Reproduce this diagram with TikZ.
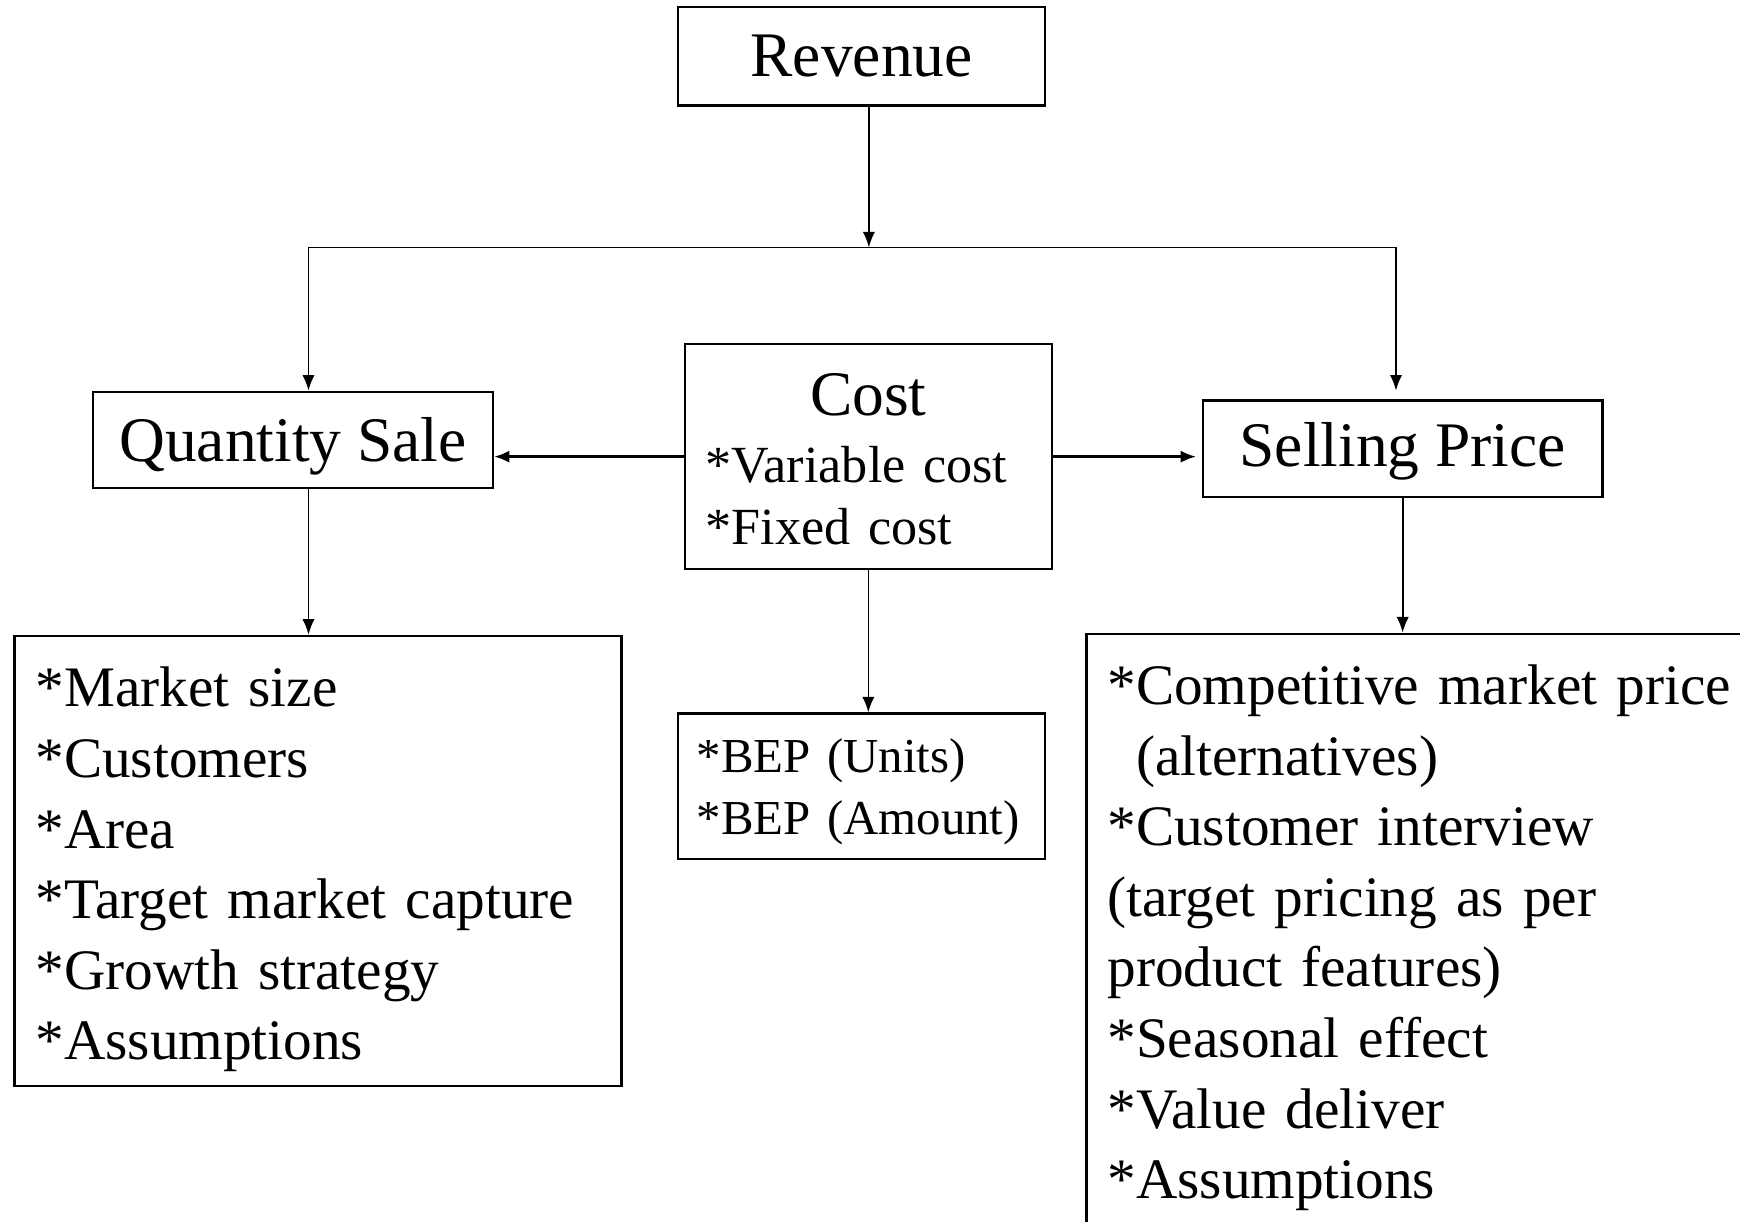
\documentclass[tikz,border=0pt]{standalone}
\usepackage{fontspec}
\setmainfont{Liberation Serif}
\usetikzlibrary{arrows.meta, positioning}

\newcommand{\titlesize}{\fontsize{28.6pt}{34pt}\selectfont}
\newcommand{\listsize}{\fontsize{25.8pt}{31.8pt}\selectfont}
\newcommand{\costsize}{\fontsize{23.5pt}{28pt}\selectfont}
\newcommand{\bepsize}{\fontsize{22pt}{28pt}\selectfont}

\begin{document}
\begin{tikzpicture}[x=0.5pt, y=-0.5pt,
    box/.style={draw, line width=1pt, inner sep=0pt, font=\titlesize},
    listbox/.style={draw, line width=1pt, anchor=north west, inner xsep=9.5pt,
                    inner ysep=6.4pt, align=left, font=\listsize},
    arr/.style={-{Latex[length=7pt, width=5.5pt]}, line width=0.75pt}
]
    \useasboundingbox (0,0) rectangle (1568,1101);
    \clip (0,0) rectangle (1568,1101);

    % Top - Revenue
    \node[box, minimum width=165.5pt, minimum height=44.5pt] (revenue) at (776.5,50.5) {Revenue};

    % Row 2 - Quantity, Cost, Price
    \node[box, minimum width=180pt, minimum height=43.5pt, text height=19.5pt,
          text depth=0pt] (quantity) at (264,396.5) {Quantity Sale};
    \node[box, minimum width=165.5pt, minimum height=101.5pt, align=left, text width=146.5pt,
          font=\costsize] (cost) at (782.5,411.5) {
        \makebox[146.5pt]{\titlesize\rule{0pt}{21.3pt}Cost}\\[2pt]
        {*}Variable cost\\
        {*}Fixed cost
    };
    \node[box, minimum width=180pt, minimum height=43.5pt, text height=19.5pt,
          text depth=4pt] (price) at (1264,404.5) {Selling Price};

    % Row 3 - Details
    \node[listbox, text width=254.5pt] (market) at (12,572) {
        \rule{0pt}{25.6pt}{*}Market size\\
        {*}Customers\\
        {*}Area\\
        {*}Target market capture\\
        {*}Growth strategy\\
        {*}Assumptions
    };
    \node[box, minimum width=165.5pt, minimum height=65.5pt, align=left, text width=148.5pt,
          font=\bepsize] (bep) at (776.5,708.5) {
        \rule{0pt}{20pt}{*}BEP (Units)\\
        {*}BEP (Amount)
    };
    \node[listbox, text width=300pt] (pricing) at (978,570) {
        \rule{0pt}{25.6pt}{*}Competitive market price\\
        \phantom{*}(alternatives)\\
        {*}Customer interview\\
        (target pricing as per\\
        product features)\\
        {*}Seasonal effect\\
        {*}Value deliver\\
        {*}Assumptions
    };

    % Connectors
    \coordinate (split) at (783,223);
    \coordinate (lft) at (278,223);
    \coordinate (rgt) at (1258,223);
    \draw[arr] (revenue.south -| split) -- (split);
    \draw[line width=0.75pt] (lft) -- (rgt);
    \draw[arr] (lft) -- (lft |- quantity.north);
    \draw[arr, shorten >=4pt] (rgt) -- (rgt |- price.north);
    \draw[arr, line width=1.5pt] (cost.west) -- (cost.west -| quantity.east);
    \draw[arr, line width=1.5pt, shorten >=2.5pt] (cost.east) -- (cost.east -| price.west);
    \draw[arr] (quantity.south -| lft) -- (lft |- market.north);
    \draw[arr] (cost.south) -- (cost.south |- bep.north);
    \draw[arr] (price.south) -- (price.south |- pricing.north);
\end{tikzpicture}
\end{document}
